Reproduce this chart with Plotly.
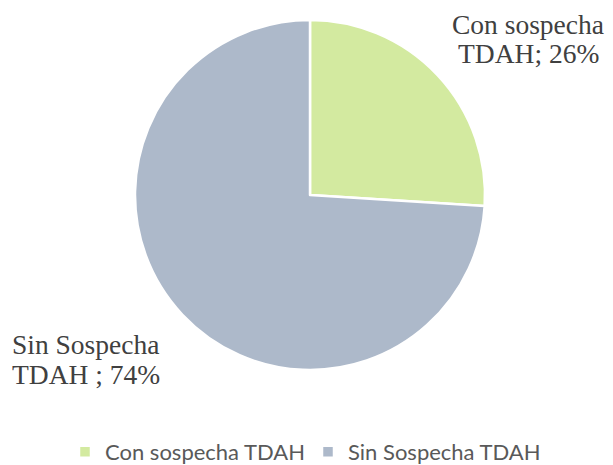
import plotly.graph_objects as go

labels = ["Con sospecha TDAH", "Sin Sospecha TDAH"]
values = [26, 74]
colors = ["#D3EAA0", "#ADB9CA"]
label_lines = [["Con sospecha", "TDAH; {}%"], ["Sin Sospecha", "TDAH ; {}%"]]

W, H = 613, 465
OFF = 8  # margen del body en la página


def px(x):
    return (x - OFF) / W


def py(y):
    return 1 - (y - OFF) / H


fig = go.Figure(go.Pie(
    labels=labels,
    values=values,
    sort=False,
    direction="clockwise",
    rotation=0,
    textinfo="none",
    hoverinfo="label+percent",
    marker=dict(colors=colors, line=dict(color="white", width=2.5)),
    domain=dict(x=[px(135), px(485)], y=[py(370), py(20)]),
))

# etiquetas de datos fuera del pastel (una anotación por línea)
ann_pos = [
    dict(x=528, ys=[24, 54], xanchor="center"),
    dict(x=10, ys=[344, 374], xanchor="left"),
]
for lines, v, pos in zip(label_lines, values, ann_pos):
    for line, yy in zip(lines, pos["ys"]):
        fig.add_annotation(
            text=line.format(v), xref="paper", yref="paper",
            x=px(pos["x"]), y=py(yy), xanchor=pos["xanchor"], yanchor="middle",
            showarrow=False,
            font=dict(family="Liberation Serif", size=27.5, color="#404040"),
        )

fig.update_layout(
    width=W, height=H,
    margin=dict(l=0, r=0, t=0, b=0),
    paper_bgcolor="white",
    plot_bgcolor="white",
    showlegend=True,
    legend=dict(
        orientation="h", x=px(65), xanchor="left", y=py(452), yanchor="middle",
        font=dict(family="Lato", size=22, color="#595959"),
        itemwidth=30, entrywidth=198,
    ),
)

fig.write_html("out.html")
